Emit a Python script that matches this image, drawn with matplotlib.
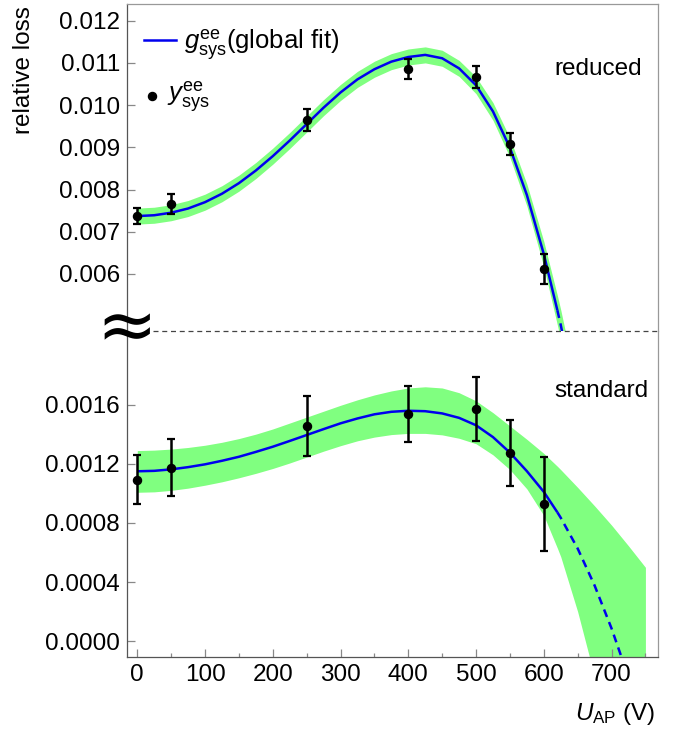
import matplotlib
matplotlib.use("Agg")
import matplotlib.pyplot as plt
from matplotlib.lines import Line2D
import numpy as np

plt.rcParams['font.family'] = ['Liberation Sans', 'DejaVu Sans']
plt.rcParams['mathtext.fontset'] = 'custom'
plt.rcParams['mathtext.rm'] = 'Liberation Sans'
plt.rcParams['mathtext.it'] = 'Liberation Sans:italic'

# ---------------- data ----------------
meas_x = [0, 50, 250, 400, 500, 550, 600]
reduced_y = [0.007372, 0.00765, 0.009647, 0.010848, 0.010659, 0.009078, 0.006109]
reduced_err = [0.00020, 0.00024, 0.00025, 0.00024, 0.00026, 0.00027, 0.00036]
standard_y = [0.001092, 0.001173, 0.001455, 0.001534, 0.00157, 0.00127, 0.000928]
standard_err = [0.000166, 0.000194, 0.000205, 0.00019, 0.000213, 0.000223, 0.00032]

# global fit, reduced
fit_red_x = [0, 25, 50, 75, 100, 125, 150, 175, 200, 225, 250, 275, 300, 325,
             350, 375, 400, 425, 450, 475, 500, 525, 550, 575, 600, 620, 625,
             650]
fit_red_y = [0.00737, 0.00739, 0.00745, 0.00755, 0.00770, 0.00790, 0.00815,
             0.00845, 0.00879, 0.00916, 0.00955, 0.00994, 0.01030, 0.01061,
             0.01085, 0.01103, 0.01114, 0.01119, 0.01111, 0.01087, 0.01047,
             0.00985, 0.00899, 0.00787, 0.00647, 0.00514, 0.00479, 0.00284]
fit_red_hw = [0.00019, 0.00019, 0.00019, 0.00019, 0.00019, 0.00019, 0.00019,
              0.00019, 0.00019, 0.00019, 0.00019, 0.00019, 0.00019, 0.00019,
              0.00019, 0.00019, 0.00019, 0.00019, 0.00019, 0.00019, 0.00020,
              0.00021, 0.00023, 0.00026, 0.00030, 0.00035, 0.00036, 0.00044]

# global fit, standard
fit_std_x = [0, 25, 50, 75, 100, 125, 150, 175, 200, 225, 250, 275, 300, 325,
             350, 375, 400, 425, 450, 475, 500, 525, 550, 575, 600, 620, 625,
             650, 675, 700, 725, 750]
fit_std_y = [0.001149, 0.001152, 0.001162, 0.001177, 0.001196, 0.001220,
             0.001247, 0.001280, 0.001315, 0.001354, 0.001394, 0.001434,
             0.001473, 0.001506, 0.001534, 0.001551, 0.001558, 0.001555,
             0.001540, 0.001510, 0.001460, 0.001380, 0.001275, 0.001150,
             0.001010, 0.000872, 0.000835, 0.000627, 0.000377, 0.000087,
             -0.000243, -0.000620]
fit_std_up = [0.001289, 0.001292, 0.001299, 0.001310, 0.001325, 0.001345,
              0.001370, 0.001400, 0.001435, 0.001475, 0.001515, 0.001555,
              0.001595, 0.001632, 0.001665, 0.001692, 0.001712, 0.001720,
              0.001712, 0.001680, 0.001625, 0.001545, 0.001455, 0.001365,
              0.001270, 0.001183, 0.001160, 0.001040, 0.000915, 0.000785,
              0.000645, 0.000500]
fit_std_lo = [0.001007, 0.001010, 0.001020, 0.001035, 0.001055, 0.001078,
              0.001105, 0.001135, 0.001168, 0.001205, 0.001245, 0.001285,
              0.001322, 0.001355, 0.001380, 0.001397, 0.001405, 0.001405,
              0.001395, 0.001372, 0.001335, 0.001260, 0.001160, 0.001030,
              0.000850, 0.000630, 0.000572, 0.000200, -0.000240, -0.000800,
              -0.001400, -0.002100]
solid_end = 620  # fit drawn solid up to here, dashed beyond

red_ticks = [0.006, 0.007, 0.008, 0.009, 0.010, 0.011, 0.012]
std_ticks = [0.0000, 0.0004, 0.0008, 0.0012, 0.0016]
x_major = [0, 100, 200, 300, 400, 500, 600, 700]
x_minor = [50, 150, 250, 350, 450, 550, 650, 750]

# ---------------- styles ----------------
W, H = 683, 732
FS = 17.5
BLUE = '#0000ee'
GREEN = '#80ff80'
SPINE = '#555555'
TICKC = '#888888'

fig = plt.figure(figsize=(W / 100, H / 100), dpi=100)
L, R = 126.7, 658.3
Y_top, Y_mid, Y_bot = 4.0, 330.7, 657.3
ax_t = fig.add_axes([L / W, 1 - Y_mid / H, (R - L) / W, (Y_mid - Y_top) / H])
ax_b = fig.add_axes([L / W, 1 - Y_bot / H, (R - L) / W, (Y_bot - Y_mid) / H])

xlim = (-15.6, 769.0)


def draw_fit(ax, xs, ys, lo, hi):
    xs = np.asarray(xs, float)
    ys = np.asarray(ys, float)
    ax.fill_between(xs, lo, hi, color=GREEN, lw=0, zorder=1)
    m1 = xs <= solid_end
    m2 = xs >= solid_end
    ax.plot(xs[m1], ys[m1], color=BLUE, lw=1.8, zorder=2,
            solid_capstyle='butt', solid_joinstyle='round')
    ax.plot(xs[m2], ys[m2], color=BLUE, lw=1.8, zorder=2,
            linestyle=(0, (3.2, 2.2)))


# top panel (reduced)
ry = np.asarray(fit_red_y)
rhw = np.asarray(fit_red_hw)
draw_fit(ax_t, fit_red_x, fit_red_y, ry - rhw, ry + rhw)
ax_t.errorbar(meas_x, reduced_y, yerr=reduced_err, fmt='o', color='black',
              ms=5.8, elinewidth=1.8, capsize=3.2, capthick=1.6, zorder=3)
ax_t.set_xlim(*xlim)
ax_t.set_ylim(0.004654, 0.012396)
ax_t.set_yticks(red_ticks)
ax_t.set_yticklabels(['%.3f' % v for v in red_ticks])
ax_t.tick_params(axis='x', bottom=False, labelbottom=False)
ax_t.spines['bottom'].set_visible(False)

# bottom panel (standard)
draw_fit(ax_b, fit_std_x, fit_std_y, fit_std_lo, fit_std_up)
ax_b.errorbar(meas_x, standard_y, yerr=standard_err, fmt='o', color='black',
              ms=5.8, elinewidth=1.8, capsize=3.2, capthick=1.6, zorder=3)
ax_b.set_xlim(*xlim)
ax_b.set_ylim(-0.000108, 0.002099)
ax_b.set_yticks(std_ticks)
ax_b.set_yticklabels(['%.4f' % v for v in std_ticks])
ax_b.set_xticks(x_major)
ax_b.set_xticks(x_minor, minor=True)
ax_b.set_xticklabels([str(v) for v in x_major])
ax_b.spines['top'].set_visible(False)

for ax in (ax_t, ax_b):
    for s in ax.spines.values():
        s.set_color(SPINE)
        s.set_linewidth(0.9)
    ax.tick_params(axis='both', which='major', direction='in', length=6,
                   width=0.9, color=TICKC, labelsize=FS, pad=5)
    ax.tick_params(axis='both', which='minor', direction='in', length=3,
                   width=0.9, color=TICKC)
    ax.tick_params(axis='y', right=False, left=True)
    ax.tick_params(axis='x', top=False)
ax_t.spines['top'].set_color('#999999')
ax_t.spines['right'].set_color('#999999')
ax_b.spines['right'].set_color('#999999')

# break line (figure level, on top of both axes) and symbol
y_mid_f = 1 - Y_mid / H
fig.add_artist(Line2D([152.7 / W, R / W], [y_mid_f, y_mid_f],
                      transform=fig.transFigure, color='#444444', lw=0.9,
                      linestyle=(0, (4, 3)), zorder=10))
fig.text(L / W, 1 - 330.0 / H, '\u2248', fontsize=52, family='DejaVu Sans',
         ha='center', va='center', color='black', zorder=11)

# panel labels
ax_t.text(744.5, 0.010713, 'reduced', fontsize=FS, ha='right', va='baseline')
ax_b.text(754, 0.001653, 'standard', fontsize=FS, ha='right', va='baseline')

# legend (manual)
def fx(px):
    return (px - L) / (R - L)


def fy(py):
    return (Y_mid - py) / (Y_mid - Y_top)


ax_t.plot([fx(144), fx(176)], [fy(40), fy(40)], transform=ax_t.transAxes,
          color=BLUE, lw=1.8)
ax_t.text(fx(184), fy(50), r'$g^{\mathrm{ee}}_{\mathrm{sys}}$(global fit)',
          transform=ax_t.transAxes, fontsize=18.5, ha='left', va='baseline')
ax_t.plot([fx(152)], [fy(96)], 'o', transform=ax_t.transAxes, color='black',
          ms=5.8)
ax_t.text(fx(167), fy(101.7), r'$y^{\mathrm{ee}}_{\mathrm{sys}}$',
          transform=ax_t.transAxes, fontsize=18.5, ha='left', va='baseline')

# axis labels
fig.text(24 / W, 1 - 70 / H, 'relative loss', rotation=90, fontsize=FS,
         ha='center', va='center')
fig.text(655 / W, 1 - 720 / H, r'$U_{\mathrm{AP}}$ (V)', fontsize=FS,
         ha='right', va='baseline')

fig.savefig('out.png', dpi=100)
